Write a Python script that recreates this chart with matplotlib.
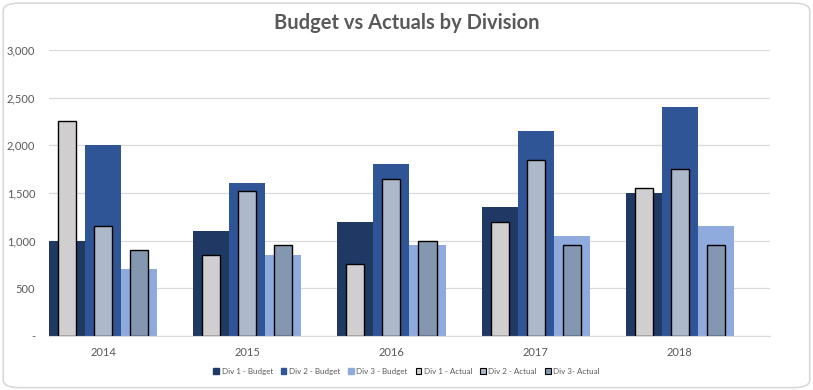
import matplotlib
matplotlib.use('Agg')
import matplotlib.pyplot as plt
from matplotlib.patches import FancyBboxPatch, Patch
import numpy as np

plt.rcParams['font.family'] = ['Lato', 'DejaVu Sans']

years = ['2014', '2015', '2016', '2017', '2018']
div1_budget = [1000, 1100, 1200, 1350, 1500]
div2_budget = [2000, 1600, 1800, 2150, 2400]
div3_budget = [700, 850, 950, 1050, 1150]
div1_actual = [2250, 850, 750, 1200, 1550]
div2_actual = [1150, 1520, 1650, 1850, 1750]
div3_actual = [900, 950, 1000, 950, 950]

budget_colors = ['#203864', '#2F5597', '#8FAADC']
actual_colors = ['#D0CECE', '#ADB9CA', '#8497B0']
txt = '#595959'
grid_c = '#D9D9D9'

fig = plt.figure(figsize=(8.13, 3.9), dpi=100)
ax = fig.add_axes([0.0603, 0.1385, 0.8867, 0.7335])

# rounded frame around the whole chart
frame = FancyBboxPatch((0.004, 0.006), 0.992, 0.986, boxstyle='round,pad=0,rounding_size=0.02',
                       transform=fig.transFigure, fill=False, edgecolor=grid_c, linewidth=1.2)
fig.patches.append(frame)

x = np.arange(len(years))
offsets = [-0.25, 0, 0.25]
budgets = [div1_budget, div2_budget, div3_budget]
actuals = [div1_actual, div2_actual, div3_actual]
b_names = ['Div 1 - Budget', 'Div 2 - Budget', 'Div 3 - Budget']
a_names = ['Div 1 - Actual', 'Div 2 - Actual', 'Div 3- Actual']

for off, vals, c in zip(offsets, budgets, budget_colors):
    ax.bar(x + off, vals, width=0.25, color=c, zorder=2)
for off, vals, c in zip(offsets, actuals, actual_colors):
    ax.bar(x + off, vals, width=0.125, color=c, edgecolor='black', linewidth=1.0, zorder=3)

# groups sit flush with the left edge, extra room on the right (as in the original)
ax.set_xlim(-0.375, 4.625)
ax.set_ylim(0, 3000)
ax.set_yticks(np.arange(0, 3001, 500))
ax.set_yticklabels(['-' if v == 0 else f'{v:,}' for v in range(0, 3001, 500)])
ax.set_xticks(x)
ax.set_xticklabels(years)
ax.tick_params(axis='both', length=0, colors=txt, labelsize=8)
ax.tick_params(axis='x', pad=8)
ax.tick_params(axis='y', pad=10)
ax.grid(axis='y', color=grid_c, linewidth=0.9, zorder=0)
ax.set_axisbelow(True)
for s in ['top', 'right', 'left']:
    ax.spines[s].set_visible(False)
ax.spines['bottom'].set_color(grid_c)

fig.text(0.5, 0.94, 'Budget vs Actuals by Division', ha='center', va='center',
         fontsize=14.5, fontweight='bold', color=txt)

handles = [Patch(facecolor=c, edgecolor=c) for c in budget_colors]
handles += [Patch(facecolor=c, edgecolor='black', linewidth=0.8) for c in actual_colors]
fig.legend(handles, b_names + a_names, loc='center', bbox_to_anchor=(0.5, 0.048), ncol=6,
           frameon=False, fontsize=5.8, labelcolor=txt, handlelength=0.7, handleheight=0.7,
           handletextpad=0.3, columnspacing=1.0)

fig.savefig('out.png', dpi=100)
